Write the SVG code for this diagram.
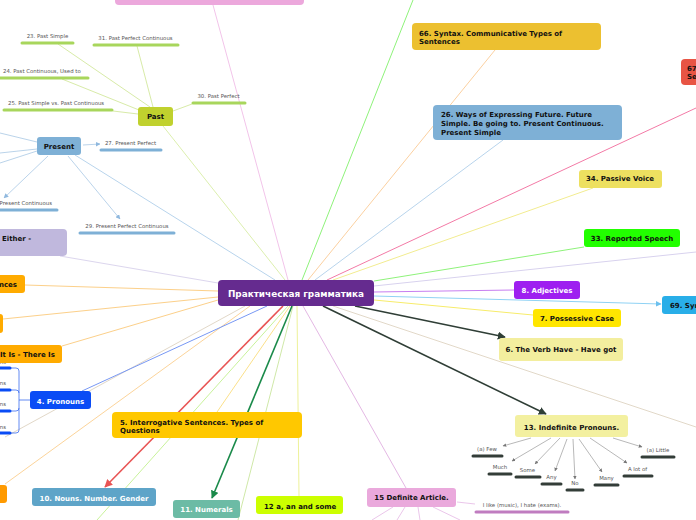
<svg xmlns="http://www.w3.org/2000/svg" width="696" height="520" viewBox="0 0 696 520">
<defs>
<marker id="aRed" viewBox="0 0 10 10" refX="9" refY="5" markerWidth="5" markerHeight="5" orient="auto"><path d="M0,0 L10,5 L0,10 z" fill="#e85454"/></marker>
<marker id="aGreen" viewBox="0 0 10 10" refX="9" refY="5" markerWidth="5" markerHeight="5" orient="auto"><path d="M0,0 L10,5 L0,10 z" fill="#1a8a4a"/></marker>
<marker id="aDark" viewBox="0 0 10 10" refX="9" refY="5" markerWidth="5" markerHeight="5" orient="auto"><path d="M0,0 L10,5 L0,10 z" fill="#2f3e36"/></marker>
<marker id="aBlue" viewBox="0 0 10 10" refX="9" refY="5" markerWidth="6" markerHeight="6" orient="auto"><path d="M0,0 L10,5 L0,10 z" fill="#6cc0ee"/></marker>
<marker id="aLB" viewBox="0 0 10 10" refX="9" refY="5" markerWidth="6" markerHeight="6" orient="auto"><path d="M0,0 L10,5 L0,10 z" fill="#8fb8de"/></marker>
<marker id="aGray" viewBox="0 0 10 10" refX="9" refY="5" markerWidth="6" markerHeight="6" orient="auto"><path d="M0,0 L10,5 L0,10 z" fill="#777"/></marker>
</defs>
<style>
.n{font-family:"DejaVu Sans",Verdana,sans-serif;font-weight:bold;font-size:7px;fill:#111}
.w{fill:#fff}
.big{font-size:8.9px}
.s{font-family:"DejaVu Sans",Verdana,sans-serif;font-size:5.4px;fill:#555}
.c{fill:none;stroke-width:1}
.bar{stroke-width:3;stroke-linecap:round;fill:none}
</style>
<rect width="696" height="520" fill="#fff"/>
<g id="connectors" fill="none">
  <line x1="213" y1="5" x2="288" y2="280" stroke="#f2c4ea" class="c"/>
  <line x1="413" y1="0" x2="302" y2="280" stroke="#8ef27a" class="c"/>
  <line x1="495" y1="50" x2="308" y2="280" stroke="#fbd0a0" class="c"/>
  <line x1="503" y1="140" x2="315" y2="280" stroke="#b8d4ec" class="c"/>
  <line x1="696" y1="108" x2="327" y2="280" stroke="#f37aa6" class="c"/>
  <line x1="593" y1="188" x2="333" y2="280" stroke="#f2ec90" class="c"/>
  <line x1="584" y1="247" x2="374" y2="281" stroke="#8ef27a" class="c"/>
  <line x1="696" y1="252" x2="374" y2="286" stroke="#d8d2ee" class="c"/>
  <line x1="514" y1="290" x2="374" y2="292" stroke="#c77ef0" class="c" stroke-width="1.2"/>
  <line x1="374" y1="296" x2="661" y2="304" stroke="#8fd2f4" class="c" marker-end="url(#aBlue)"/>
  <line x1="374" y1="300" x2="533" y2="315" stroke="#f7ec6a" class="c"/>
  <line x1="355" y1="306" x2="505" y2="337" stroke="#2f3e36" stroke-width="1.6" marker-end="url(#aDark)"/>
  <line x1="333" y1="306" x2="696" y2="427" stroke="#e2d8c8" class="c"/>
  <line x1="323" y1="306" x2="546" y2="414" stroke="#2f3e36" stroke-width="1.6" marker-end="url(#aDark)"/>
  <line x1="303" y1="306" x2="406" y2="488" stroke="#e4b8e4" class="c"/>
  <line x1="297" y1="306" x2="299" y2="496" stroke="#eef29a" class="c"/>
  <line x1="293" y1="306" x2="238" y2="520" stroke="#cfe8a8" class="c"/>
  <line x1="292" y1="306" x2="212" y2="498" stroke="#1a8a4a" stroke-width="1.6" marker-end="url(#aGreen)"/>
  <line x1="290" y1="306" x2="217" y2="412" stroke="#fbe08a" class="c"/>
  <line x1="288" y1="306" x2="97" y2="520" stroke="#c8f29a" class="c"/>
  <line x1="283" y1="306" x2="105" y2="487" stroke="#e85454" stroke-width="1.6" marker-end="url(#aRed)"/>
  <line x1="250" y1="306" x2="5" y2="484" stroke="#fcd49a" class="c"/>
  <line x1="245" y1="306" x2="5" y2="437" stroke="#e2d8c8" class="c"/>
  <line x1="267" y1="306" x2="82" y2="391" stroke="#7898f4" class="c"/>
  <line x1="218" y1="300" x2="62" y2="346" stroke="#fcd08a" class="c"/>
  <line x1="218" y1="297" x2="3" y2="319" stroke="#fcd08a" class="c"/>
  <line x1="218" y1="291" x2="25" y2="285" stroke="#fcd08a" class="c"/>
  <line x1="218" y1="283" x2="60" y2="256" stroke="#dcd6ee" class="c"/>
  <line x1="275" y1="280" x2="75" y2="155" stroke="#b8d4ec" class="c"/>
  <line x1="285" y1="280" x2="163" y2="126" stroke="#dcefae" class="c"/>
  <g stroke="#d8eba8" stroke-width="1">
    <line x1="58" y1="44" x2="150" y2="107"/>
    <line x1="137" y1="46" x2="153" y2="107"/>
    <line x1="62" y1="79" x2="139" y2="110"/>
    <line x1="113" y1="111" x2="138" y2="114"/>
    <line x1="173" y1="111" x2="192" y2="104"/>
  </g>
  <g stroke="#a8c8e4" stroke-width="0.8">
    <line x1="83" y1="145" x2="100" y2="144" marker-end="url(#aLB)"/>
    <line x1="48" y1="156" x2="4" y2="198" marker-end="url(#aLB)"/>
    <line x1="68" y1="156" x2="120" y2="219" marker-end="url(#aLB)"/>
    <line x1="37" y1="142" x2="0" y2="133"/>
    <line x1="37" y1="149" x2="0" y2="153"/>
    <line x1="37" y1="151" x2="0" y2="163"/>
  </g>
  <g stroke="#3b6cf0" stroke-width="0.8" fill="none">
    <line x1="30" y1="400" x2="19" y2="400"/>
    <path d="M11,368 H16 Q19,368 19,371 V430 Q19,433 16,433 H11"/>
    <path d="M11,390 H16 Q19,390 19,393"/>
    <path d="M11,411 H16 Q19,411 19,408"/>
  </g>
  <g stroke="#888" stroke-width="0.6">
    <line x1="531" y1="438" x2="503" y2="446" marker-end="url(#aGray)"/>
    <line x1="551" y1="438" x2="512" y2="461" marker-end="url(#aGray)"/>
    <line x1="560" y1="438" x2="535" y2="464" marker-end="url(#aGray)"/>
    <line x1="567" y1="439" x2="555" y2="471" marker-end="url(#aGray)"/>
    <line x1="573" y1="439" x2="575" y2="479" marker-end="url(#aGray)"/>
    <line x1="579" y1="439" x2="602" y2="472" marker-end="url(#aGray)"/>
    <line x1="590" y1="438" x2="627" y2="463" marker-end="url(#aGray)"/>
    <line x1="613" y1="438" x2="642" y2="447" marker-end="url(#aGray)"/>
  </g>
  <g stroke="#e4b8e4" stroke-width="0.8">
    <line x1="457" y1="502" x2="475" y2="504"/>
    <line x1="393" y1="507" x2="372" y2="520"/>
    <line x1="405" y1="507" x2="397" y2="520"/>
    <line x1="418" y1="507" x2="420" y2="520"/>
    <line x1="433" y1="507" x2="460" y2="520"/>
  </g>
</g>

<g id="top-pink"><rect x="115" y="-20" width="189" height="25" rx="4" fill="#eca8dc"/></g>
<g id="n66"><rect x="412" y="23" width="189" height="27" rx="4" fill="#ecc030"/><text class="n" x="419" y="35.5">66. Syntax. Communicative Types of</text><text class="n" x="419" y="44">Sentences</text></g>
<g id="n67"><rect x="681" y="59" width="30" height="26" rx="4" fill="#e85444"/><text class="n" x="687" y="70.5">67</text><text class="n" x="687" y="79">Se</text></g>
<g id="n26"><rect x="433" y="105" width="189" height="35" rx="4" fill="#7eb0d6"/><text class="n" x="441" y="117">26. Ways of Expressing Future. Future</text><text class="n" x="441" y="125.5">Simple. Be going to. Present Continuous.</text><text class="n" x="441" y="134.5">Present Simple</text></g>
<g id="n34"><rect x="579" y="170" width="83" height="18" rx="3" fill="#ede060"/><text class="n" x="620" y="180.5" text-anchor="middle">34. Passive Voice</text></g>
<g id="n33"><rect x="584" y="229" width="96" height="18" rx="3" fill="#22ff00"/><text class="n" x="632" y="241" text-anchor="middle">33. Reported Speech</text></g>
<g id="n8"><rect x="514" y="281" width="66" height="18" rx="3" fill="#9e1ff0"/><text class="n w" x="547" y="292.5" text-anchor="middle">8. Adjectives</text></g>
<g id="n69"><rect x="662" y="296" width="50" height="18" rx="3" fill="#29aee8"/><text class="n" x="670" y="307.5">69. Syn</text></g>
<g id="n7"><rect x="533" y="309" width="88" height="18" rx="3" fill="#ffe600"/><text class="n" x="577" y="320.5" text-anchor="middle">7. Possessive Case</text></g>
<g id="n6"><rect x="499" y="338" width="124" height="23" rx="3" fill="#f3ee9e"/><text class="n" x="561" y="351.5" text-anchor="middle" fill="#333">6. The Verb Have - Have got</text></g>

<g id="n13"><rect x="515" y="415" width="113" height="22" rx="3" fill="#f3f0a0"/><text class="n" x="571.5" y="429.5" text-anchor="middle" fill="#333">13. Indefinite Pronouns.</text></g>
<g id="n13-items">
  <text class="s" x="487" y="451" text-anchor="middle">(a) Few</text><line class="bar" x1="473" y1="456" x2="502" y2="456" stroke="#333d38"/>
  <text class="s" x="500" y="469" text-anchor="middle">Much</text><line class="bar" x1="489" y1="474" x2="511" y2="474" stroke="#333d38"/>
  <text class="s" x="527.5" y="472" text-anchor="middle">Some</text><line class="bar" x1="516" y1="477" x2="540" y2="477" stroke="#333d38"/>
  <text class="s" x="551.5" y="479" text-anchor="middle">Any</text><line class="bar" x1="542" y1="484" x2="561" y2="484" stroke="#333d38"/>
  <text class="s" x="575" y="485" text-anchor="middle">No</text><line class="bar" x1="567" y1="490" x2="583" y2="490" stroke="#333d38"/>
  <text class="s" x="606.5" y="480" text-anchor="middle">Many</text><line class="bar" x1="595" y1="485" x2="618" y2="485" stroke="#333d38"/>
  <text class="s" x="637.5" y="471" text-anchor="middle">A lot of</text><line class="bar" x1="624" y1="476" x2="652" y2="476" stroke="#333d38"/>
  <text class="s" x="658" y="452" text-anchor="middle">(a) Little</text><line class="bar" x1="642" y1="457" x2="674" y2="457" stroke="#333d38"/>
</g>

<g id="n15"><rect x="367" y="488" width="89" height="19" rx="3" fill="#eaa9dc"/><text class="n" x="411.5" y="499.5" text-anchor="middle">15 Definite Article.</text></g>
<g id="n15-item"><text class="s" x="522" y="507" text-anchor="middle">I like (music), I hate (exams).</text><line class="bar" x1="476" y1="512" x2="568" y2="512" stroke="#c07cc0"/></g>

<g id="n12"><rect x="256" y="496" width="87" height="18" rx="3" fill="#ccff00"/><text class="n" x="264" y="508.5">12 a, an and some</text></g>
<g id="n11"><rect x="173" y="500" width="67" height="18" rx="3" fill="#6cbba5"/><text class="n w" x="206.5" y="511.5" text-anchor="middle">11. Numerals</text></g>
<g id="n10"><rect x="32" y="488" width="124" height="18" rx="3" fill="#5ea4c8"/><text class="n w" x="94" y="500.5" text-anchor="middle">10. Nouns. Number. Gender</text></g>
<g id="n-orange-bl"><rect x="-10" y="485" width="17" height="18" rx="3" fill="#ff9a00"/></g>
<g id="n5"><rect x="112" y="412" width="190" height="26" rx="4" fill="#ffc800"/><text class="n" x="120" y="424.5">5. Interrogative Sentences. Types of</text><text class="n" x="120" y="432.5">Questions</text></g>

<g id="n4"><rect x="30" y="391" width="61" height="18" rx="3" fill="#0a4cf5"/><text class="n w" x="60.5" y="403.5" text-anchor="middle">4. Pronouns</text></g>
<g id="n4-items">
  <text class="s" x="6" y="363.5" text-anchor="end">ns</text><line class="bar" x1="-2" y1="368" x2="10" y2="368" stroke="#0a4cf5"/>
  <text class="s" x="6" y="385" text-anchor="end">ns</text><line class="bar" x1="-2" y1="390" x2="10" y2="390" stroke="#0a4cf5"/>
  <text class="s" x="6" y="406" text-anchor="end">ns</text><line class="bar" x1="-2" y1="411" x2="10" y2="411" stroke="#0a4cf5"/>
  <text class="s" x="6" y="428.5" text-anchor="end">ns</text><line class="bar" x1="-2" y1="433" x2="10" y2="433" stroke="#0a4cf5"/>
</g>
<g id="n-itis"><rect x="-10" y="345" width="72" height="18" rx="3" fill="#ffab00"/><text class="n" x="0" y="356.5">It Is - There Is</text></g>
<g id="n-orange-mid"><rect x="-10" y="314" width="13" height="19" rx="3" fill="#ffab00"/></g>
<g id="n-nces"><rect x="-10" y="275" width="35" height="18" rx="3" fill="#ffab00"/><text class="n" x="17" y="286.5" text-anchor="end">nces</text></g>
<g id="n-either"><rect x="-10" y="229" width="77" height="27" rx="4" fill="#c0b8dd"/><text class="n" x="2" y="240.5">Either -</text></g>

<g id="n-present"><rect x="37" y="137" width="44" height="18" rx="3" fill="#7eb0d6"/><text class="n" x="59" y="149" text-anchor="middle">Present</text></g>
<g id="present-items">
  <text class="s" x="130.5" y="145" text-anchor="middle">27. Present Perfect</text><line class="bar" x1="101" y1="150" x2="161" y2="150" stroke="#7eb0d6"/>
  <text class="s" x="52" y="205" text-anchor="end">Present Continuous</text><line class="bar" x1="-2" y1="210" x2="57" y2="210" stroke="#7eb0d6"/>
  <text class="s" x="127" y="228" text-anchor="middle">29. Present Perfect Continuous</text><line class="bar" x1="80" y1="233" x2="174" y2="233" stroke="#7eb0d6"/>
</g>
<g id="n-past"><rect x="138" y="107" width="35" height="19" rx="3" fill="#c0d12e"/><text class="n" x="155.5" y="119" text-anchor="middle">Past</text></g>
<g id="past-items">
  <text class="s" x="47.5" y="38" text-anchor="middle">23. Past Simple</text><line class="bar" x1="22" y1="43" x2="73" y2="43" stroke="#a8d65c"/>
  <text class="s" x="135.5" y="40" text-anchor="middle">31. Past Perfect Continuous</text><line class="bar" x1="94" y1="45" x2="178" y2="45" stroke="#a8d65c"/>
  <text class="s" x="3" y="73">24. Past Continuous, Used to</text><line class="bar" x1="-2" y1="78" x2="88" y2="78" stroke="#a8d65c"/>
  <text class="s" x="8" y="105">25. Past Simple vs. Past Continuous</text><line class="bar" x1="4" y1="110" x2="112" y2="110" stroke="#a8d65c"/>
  <text class="s" x="218.5" y="98" text-anchor="middle">30. Past Perfect</text><line class="bar" x1="193" y1="103" x2="245" y2="103" stroke="#a8d65c"/>
</g>

<g id="center"><rect x="218" y="280" width="156" height="26" rx="4" fill="#652b8f"/><text class="n w big" x="296" y="297" text-anchor="middle">Практическая грамматика</text></g>
</svg>
